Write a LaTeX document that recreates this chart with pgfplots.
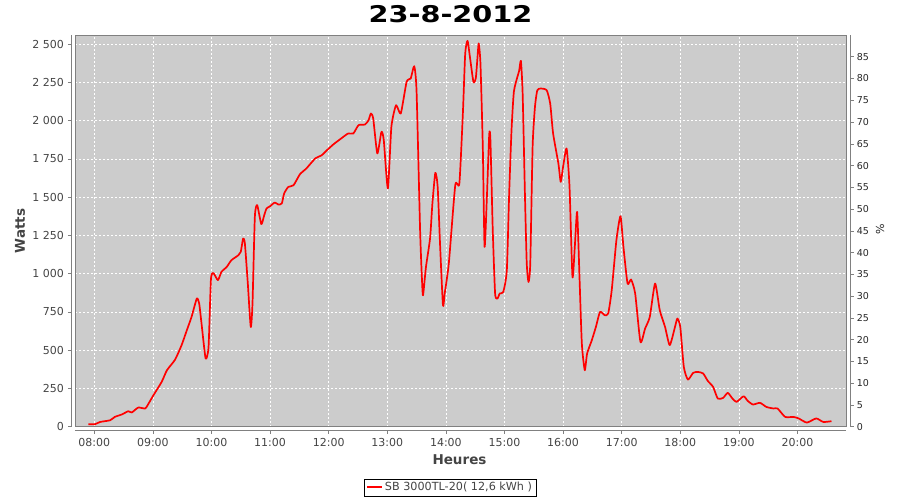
\documentclass[border=0pt]{standalone}
\usepackage{fontspec}
\setmainfont{DejaVu Sans}
\usepackage{pgfplots}
\pgfplotsset{compat=1.18}
\definecolor{plotgray}{HTML}{CCCCCC}
\definecolor{axisgray}{HTML}{808080}
\definecolor{labelgray}{HTML}{444444}
\definecolor{jred}{HTML}{FF0000}
\begin{document}
\begin{tikzpicture}
% ---------- main plot area ----------
\begin{axis}[
  name=main, at={(0pt,0pt)}, anchor=south west,
  scale only axis, width=771pt, height=391.7pt,
  xmin=7.671, xmax=20.828, ymin=0, ymax=2560,
  axis background/.style={fill=plotgray},
  axis line style={draw=axisgray, line width=0.8pt},
  xtick={8,9,...,20}, ytick={0,250,...,2500},
  xticklabels={}, yticklabels={},
  major tick length=0pt,
  grid=major,
  grid style={white, dash pattern=on 2pt off 2pt, line width=0.5pt},
  legend style={at={(0.4864,-0.155)}, anchor=center, draw=black, line width=0.6pt,
    fill=white, font=\fontsize{11.2}{13}\selectfont, text=labelgray,
    inner xsep=2pt, inner ysep=1.5pt},
  legend image code/.code={\draw[draw=jred, line width=2pt] (0pt,0pt) -- (15pt,0pt);},
]
\addplot[jred, line width=1.7pt, line join=round, smooth, tension=0.35] coordinates {
(7.90,16) (8.01,16) (8.10,31) (8.27,42) (8.35,64) (8.47,80) (8.58,101) (8.64,93)
(8.75,125) (8.87,119) (8.92,147) (9.01,206) (9.15,293) (9.24,369) (9.38,439)
(9.49,533) (9.58,631) (9.66,718) (9.75,838) (9.79,805) (9.83,675) (9.90,446)
(9.95,522) (9.99,958) (10.03,1005) (10.11,958) (10.17,1012) (10.26,1044)
(10.34,1088) (10.46,1121) (10.50,1143) (10.54,1230) (10.57,1197) (10.62,936)
(10.67,652) (10.70,805) (10.74,1371) (10.78,1448) (10.85,1324) (10.90,1382)
(10.94,1426) (11.00,1441) (11.08,1465) (11.14,1452) (11.20,1459) (11.24,1524)
(11.31,1567) (11.40,1578) (11.51,1650) (11.62,1688) (11.77,1753) (11.88,1774)
(11.97,1807) (12.08,1845) (12.19,1877) (12.33,1916) (12.42,1916) (12.51,1971)
(12.62,1975) (12.68,2003) (12.72,2047) (12.76,2014) (12.83,1786) (12.90,1927)
(12.94,1873) (13.01,1557) (13.07,1960) (13.15,2101) (13.23,2047) (13.33,2254)
(13.40,2276) (13.46,2356) (13.50,2188) (13.56,1284) (13.59,979) (13.61,859)
(13.66,1044) (13.73,1230) (13.77,1459) (13.82,1659) (13.86,1567) (13.90,1197)
(13.95,794) (13.98,871) (14.05,1067) (14.16,1578) (14.23,1589) (14.29,2047)
(14.33,2439) (14.37,2522) (14.41,2417) (14.47,2254) (14.51,2276) (14.54,2417)
(14.56,2505) (14.59,2374) (14.63,1829) (14.66,1175) (14.70,1502) (14.74,1912)
(14.76,1873) (14.80,1284) (14.84,871) (14.88,838) (14.92,871) (14.98,881)
(15.04,1023) (15.08,1524) (15.12,1938) (15.16,2188) (15.22,2286) (15.25,2325)
(15.28,2391) (15.31,2177) (15.35,1502) (15.38,1067) (15.41,946) (15.44,1067)
(15.48,1829) (15.52,2090) (15.56,2199) (15.62,2210) (15.72,2199) (15.78,2112)
(15.83,1916) (15.92,1720) (15.96,1600) (16.00,1698) (16.06,1818) (16.11,1567)
(16.16,979) (16.20,1175) (16.24,1404) (16.28,980) (16.32,544) (16.37,369)
(16.41,478) (16.49,565) (16.56,652) (16.63,750) (16.71,729) (16.77,740)
(16.83,892) (16.91,1219) (16.98,1376) (17.03,1175) (17.10,936) (17.16,962)
(17.23,871) (17.32,554) (17.40,642) (17.48,718) (17.57,936) (17.65,761)
(17.74,652) (17.82,533) (17.91,652) (17.95,707) (18.00,652) (18.06,391)
(18.13,308) (18.22,352) (18.30,358) (18.39,348) (18.47,299) (18.56,260)
(18.64,184) (18.73,188) (18.81,221) (18.89,184) (18.96,162) (19.08,199)
(19.15,169) (19.24,145) (19.36,156) (19.47,129) (19.59,119) (19.66,119)
(19.79,64) (19.93,64) (20.02,54) (20.16,27) (20.32,54) (20.44,31) (20.58,36)
};
\addlegendentry{SB 3000TL-20( 12,6 kWh )}
\end{axis}
% ---------- left and bottom axes (offset by 4px) ----------
\begin{axis}[
  at={(-4pt,-4pt)}, anchor=south west,
  scale only axis, width=775pt, height=395.7pt,
  xmin=7.603, xmax=20.828, ymin=-26.1, ymax=2560,
  axis x line*=bottom, axis y line*=left,
  axis line style={draw=axisgray, line width=0.8pt, -},
  x axis line style={shorten <=4pt},
  y axis line style={shorten <=4pt},
  xtick={8,9,...,20},
  xticklabels={08:00,09:00,10:00,11:00,12:00,13:00,14:00,15:00,16:00,17:00,18:00,19:00,20:00},
  ytick={0,250,...,2500},
  tick align=outside, major tick length=3pt,
  tick style={draw=axisgray, line width=0.6pt},
  tick label style={font=\fontsize{11}{13}\selectfont, text=labelgray},
  /pgf/number format/assume math mode=true,
  /pgf/number format/1000 sep={\ },
  yticklabel style={inner sep=0pt, xshift=-4pt},
  xticklabel style={inner sep=0pt, yshift=-4pt},
]
\end{axis}
% ---------- right axis (%) ----------
\begin{axis}[
  at={(0pt,-4pt)}, anchor=south west,
  scale only axis, width=775.7pt, height=395.7pt,
  xmin=7.671, xmax=20.828, ymin=-0.92, ymax=90,
  axis x line=none, axis y line*=right,
  axis line style={draw=axisgray, line width=0.8pt, -},
  y axis line style={shorten <=4pt},
  ytick={0,5,...,85},
  tick align=outside, major tick length=3pt,
  tick style={draw=axisgray, line width=0.6pt},
  tick label style={font=\fontsize{9.5}{11}\selectfont, text=black!85},
  /pgf/number format/assume math mode=true,
  yticklabel style={inner sep=0pt, xshift=3pt},
]
\end{axis}
% ---------- titles and labels ----------
\node[font=\bfseries\fontsize{23}{26}\selectfont] at (375.5pt,412.7pt) {\scalebox{1.25}[1]{23-8-2012}};
\node[font=\bfseries\fontsize{13.5}{15}\selectfont, text=labelgray, rotate=90] at (-55pt,195.7pt) {Watts};
\node[font=\bfseries\fontsize{13.5}{15}\selectfont, text=labelgray] at (384.5pt,-33.3pt) {Heures};
\node[font=\fontsize{11}{13}\selectfont, text=black!85, rotate=90] at (805pt,197.7pt) {\%};
\pgfresetboundingbox
\path[use as bounding box] (-75pt,-73.3pt) rectangle (825pt,426.7pt);
\end{tikzpicture}
\end{document}
